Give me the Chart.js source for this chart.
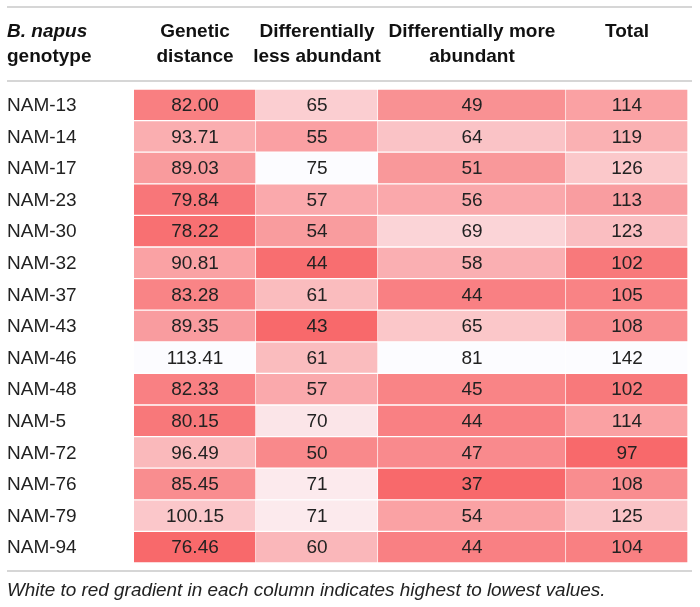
<!DOCTYPE html>
<html lang="en">
<head>
<meta charset="UTF-8">
<title>B. napus genotypes - heat table</title>
<script src="https://cdn.jsdelivr.net/npm/chart.js"></script>
<style>
  html, body { margin: 0; padding: 0; background: #fff; }
</style>
</head>
<body>
<canvas id="tableChart" width="700" height="607"></canvas>
<script>
const genotypes = ['NAM-13', 'NAM-14', 'NAM-17', 'NAM-23', 'NAM-30', 'NAM-32', 'NAM-37', 'NAM-43',
                   'NAM-46', 'NAM-48', 'NAM-5', 'NAM-72', 'NAM-76', 'NAM-79', 'NAM-94'];
const geneticDistance = [82.00, 93.71, 89.03, 79.84, 78.22, 90.81, 83.28, 89.35, 113.41, 82.33, 80.15, 96.49, 85.45, 100.15, 76.46];
const lessAbundant = [65, 55, 75, 57, 54, 44, 61, 43, 61, 57, 70, 50, 71, 71, 60];
const moreAbundant = [49, 64, 51, 56, 69, 58, 44, 65, 81, 45, 44, 47, 37, 54, 44];
const total = [114, 119, 126, 113, 123, 102, 105, 108, 142, 102, 114, 97, 108, 125, 104];

const firstHeader = ['B. napus', 'genotype'];
const columnHeaders = [['Genetic', 'distance'], ['Differentially', 'less abundant'], ['Differentially more', 'abundant'], ['Total']];
const caption = 'White to red gradient in each column indicates highest to lowest values.';

// layout
const colWidths = [122, 122, 188, 122];
const FONT = '"Liberation Sans", Arial, Helvetica, sans-serif';
const lowColor = [248, 105, 107];   // lowest value
const highColor = [252, 252, 255];  // highest value

const columns = [
    { values: geneticDistance, fmt: v => v.toFixed(2) },
    { values: lessAbundant, fmt: v => String(v) },
    { values: moreAbundant, fmt: v => String(v) },
    { values: total, fmt: v => String(v) }
];

function cellColor(v, arr) {
    const min = Math.min(...arr), max = Math.max(...arr);
    const t = (v - min) / (max - min);
    const c = lowColor.map((lo, i) => Math.round(lo + (highColor[i] - lo) * t));
    return `rgb(${c.join(',')})`;
}

const colEdges = colWidths.reduce((acc, w) => { acc.push(acc[acc.length - 1] + w); return acc; }, [0]);

// headers, cell numbers, rules, caption
const tableText = {
    id: 'tableText',
    afterDatasetsDraw(chart) {
        const c = chart.ctx;
        const xs = chart.scales.x;
        const area = chart.chartArea;
        c.save();

        // values inside cells
        c.font = '19px ' + FONT;
        c.fillStyle = '#222';
        c.textAlign = 'center';
        c.textBaseline = 'middle';
        chart.data.datasets.forEach((ds, j) => {
            chart.getDatasetMeta(j).data.forEach((bar, i) => {
                c.fillText(columns[j].fmt(columns[j].values[i]), (bar.x + bar.base) / 2, bar.y + 1);
            });
        });

        // horizontal rules
        c.strokeStyle = '#c8c8c8';
        c.lineWidth = 1.5;
        [7, area.top - 8, area.bottom + 8].forEach(y => {
            c.beginPath();
            c.moveTo(7, y);
            c.lineTo(692, y);
            c.stroke();
        });

        // header
        c.fillStyle = '#111';
        c.textBaseline = 'alphabetic';
        c.textAlign = 'left';
        c.font = 'italic bold 19px ' + FONT;
        c.fillText(firstHeader[0], 7, 37);
        c.font = 'bold 19px ' + FONT;
        c.fillText(firstHeader[1], 7, 62);
        c.textAlign = 'center';
        columnHeaders.forEach((lines, j) => {
            const cx = xs.getPixelForValue(colEdges[j] + colWidths[j] / 2);
            lines.forEach((t, k) => c.fillText(t, cx, 37 + k * 25));
        });

        // caption
        c.textAlign = 'left';
        c.fillStyle = '#222';
        c.font = 'italic 18.9px ' + FONT;
        c.fillText(caption, 7, 596);
        c.restore();
    }
};

const ctx = document.getElementById('tableChart').getContext('2d');
new Chart(ctx, {
    type: 'bar',
    data: {
        labels: genotypes,
        datasets: columns.map((col, j) => ({
            data: genotypes.map(() => colWidths[j]),
            backgroundColor: col.values.map(v => cellColor(v, col.values)),
            borderWidth: 1,
            borderColor: 'rgba(255,255,255,0.35)',
            barPercentage: 1,
            categoryPercentage: 1
        }))
    },
    options: {
        indexAxis: 'y',
        responsive: false,
        animation: false,
        layout: { padding: { left: 7, right: 12, top: 89, bottom: 44 } },
        scales: {
            x: {
                type: 'linear',
                stacked: true,
                min: 0,
                max: colEdges[colEdges.length - 1],
                display: false
            },
            y: {
                type: 'category',
                stacked: true,
                offset: true,
                grid: { display: false },
                border: { display: false },
                ticks: {
                    crossAlign: 'far',
                    padding: 0,
                    labelOffset: 1,
                    color: '#222',
                    font: { family: FONT, size: 19 }
                },
                afterFit(scale) { scale.width = 127; }
            }
        },
        plugins: {
            legend: { display: false },
            tooltip: { enabled: false }
        }
    },
    plugins: [tableText]
});
</script>
</body>
</html>
